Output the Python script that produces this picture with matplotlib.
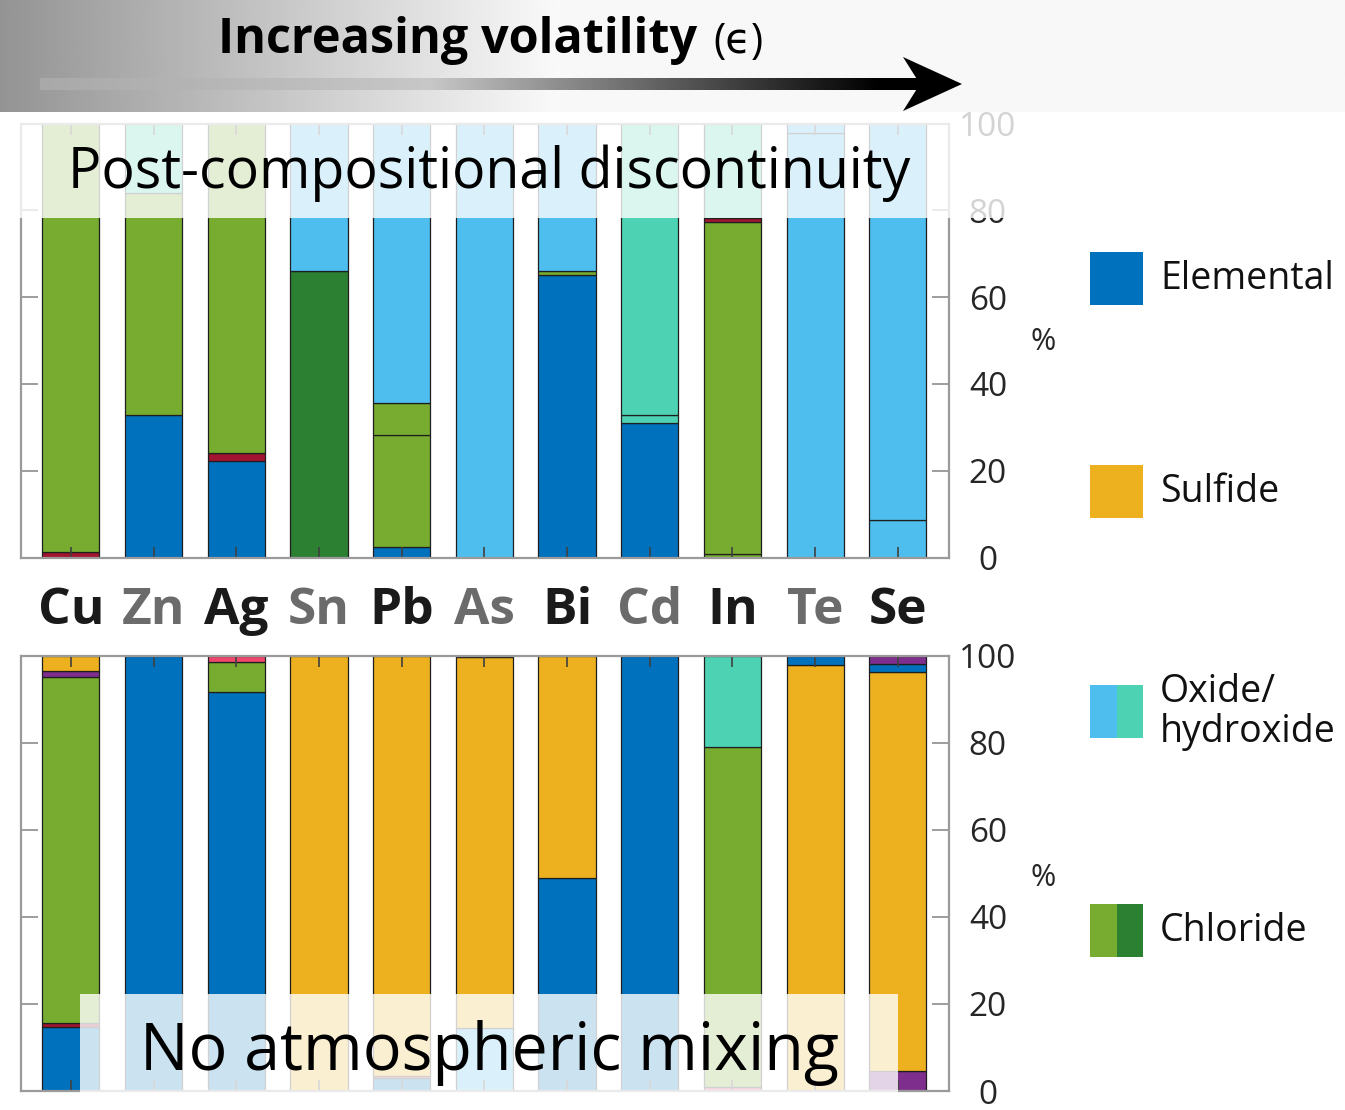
import numpy as np
import matplotlib
matplotlib.use("Agg")
import matplotlib.pyplot as plt
from matplotlib.patches import Rectangle, Polygon
from matplotlib.transforms import blended_transform_factory

plt.rcParams["font.family"] = ["Open Sans", "DejaVu Sans"]

W, H = 1345, 1110

elements = ["Cu", "Zn", "Ag", "Sn", "Pb", "As", "Bi", "Cd", "In", "Te", "Se"]
label_colors = ["#1a1a1a", "#6b6b6b"] * 6

# species colours
C_ELEM = "#0072BD"
C_SULF = "#EDB120"
C_OXID = "#4DBEEE"
C_HYDR = "#4DD3B4"
C_CHL = "#77AC30"
C_CHL2 = "#2B8031"
C_RED = "#A2142F"
C_PURP = "#7E2F8E"
C_PINK = "#F0486C"

# Post-compositional discontinuity (%), layers listed bottom to top
top_elemental = [0, 32.8, 22.2, 0, 2.5, 0, 65.0, 31.0, 0, 0, 0]
top_chloride_dark = [0, 0, 0, 66.0, 0, 0, 0, 0, 0, 0, 0]
top_red_low = [1.3, 0, 1.9, 0, 0, 0, 0, 0, 0, 0, 0]
top_chloride_a = [98.7, 51.2, 75.9, 0, 25.7, 0, 1.0, 0, 0.8, 0, 0]
top_chloride_b = [0, 0, 0, 0, 7.3, 0, 0, 0, 76.6, 0, 0]
top_red_high = [0, 0, 0, 0, 0, 0, 0, 0, 0.8, 0, 0]
top_hydroxide_a = [0, 16.0, 0, 0, 0, 0, 0, 1.8, 21.8, 0, 0]
top_hydroxide_b = [0, 0, 0, 0, 0, 0, 0, 67.2, 0, 0, 0]
top_oxide_a = [0, 0, 0, 34.0, 64.5, 100.0, 34.0, 0, 0, 97.7, 8.6]
top_oxide_b = [0, 0, 0, 0, 0, 0, 0, 0, 0, 2.3, 91.4]

# No atmospheric mixing (%), layers listed bottom to top
bot_purple_low = [0, 0, 0, 0, 0, 0, 0, 0, 0, 0, 4.7]
bot_oxide = [0, 0, 0, 0, 0, 14.5, 0, 0, 0, 0, 0]
bot_elemental = [14.8, 100.0, 91.8, 0, 3.1, 0, 49.0, 100.0, 0, 0, 0]
bot_red = [0.9, 0, 0, 0, 0, 0, 0, 0, 0, 0, 0]
bot_pink_low = [0, 0, 0, 0, 0.4, 0, 0, 0, 1.0, 0, 0]
bot_chloride = [79.4, 0, 6.8, 0, 0, 0, 0, 0, 78.0, 0, 0]
bot_purple_mid = [1.4, 0, 0, 0, 0, 0, 0, 0, 0, 0, 0]
bot_sulfide = [3.5, 0, 0, 100.0, 96.5, 85.2, 51.0, 0, 0, 97.9, 91.6]
bot_elemental_top = [0, 0, 0, 0, 0, 0, 0, 0, 0, 2.1, 1.9]
bot_purple_top = [0, 0, 0, 0, 0, 0.3, 0, 0, 0, 0, 1.8]
bot_pink_top = [0, 0, 1.4, 0, 0, 0, 0, 0, 0, 0, 0]
bot_hydroxide = [0, 0, 0, 0, 0, 0, 0, 0, 21.0, 0, 0]

top_layers = [
    (top_elemental, C_ELEM), (top_chloride_dark, C_CHL2), (top_red_low, C_RED),
    (top_chloride_a, C_CHL), (top_chloride_b, C_CHL), (top_red_high, C_RED),
    (top_hydroxide_a, C_HYDR), (top_hydroxide_b, C_HYDR),
    (top_oxide_a, C_OXID), (top_oxide_b, C_OXID),
]
bot_layers = [
    (bot_purple_low, C_PURP), (bot_oxide, C_OXID), (bot_elemental, C_ELEM),
    (bot_red, C_RED), (bot_pink_low, C_PINK), (bot_chloride, C_CHL),
    (bot_purple_mid, C_PURP), (bot_sulfide, C_SULF), (bot_elemental_top, C_ELEM),
    (bot_purple_top, C_PURP), (bot_pink_top, C_PINK), (bot_hydroxide, C_HYDR),
]

x = np.arange(len(elements))
BAR_W = 0.69


def fx(px):
    return px / W


def fy(py):
    return 1 - py / H


def stacked(ax, layers):
    base = np.zeros(len(x))
    for vals, col in layers:
        v = np.asarray(vals, dtype=float)
        m = v > 0
        ax.bar(x[m], v[m], bottom=base[m], width=BAR_W, color=col,
               edgecolor="#1e1e1e", linewidth=0.9)
        base += v


def style(ax):
    ax.set_xlim(-0.61, 10.62)
    ax.set_ylim(0, 100)
    ax.set_xticks(x)
    ax.set_xticklabels([])
    ax.tick_params(axis="x", direction="in", length=8, width=1.2,
                   color="#404040", top=True, bottom=True)
    ax.set_yticks(range(0, 101, 20))
    ax.tick_params(axis="y", direction="in", length=12, width=1.2,
                   color="#8c8c8c", left=True, right=True, labelleft=False,
                   labelright=True, labelsize=24, labelcolor="#262626", pad=28)
    for lab in ax.get_yticklabels():
        lab.set_horizontalalignment("center")
    for s in ax.spines.values():
        s.set_color("#9a9a9a")
        s.set_linewidth(1.6)


fig = plt.figure(figsize=(W / 100, H / 100), dpi=100)

ax_top = fig.add_axes([fx(20.5), fy(557.5), fx(949 - 20.5), 434 / H])
ax_bot = fig.add_axes([fx(20.5), fy(1091), fx(949 - 20.5), 435 / H])
stacked(ax_top, top_layers)
stacked(ax_bot, bot_layers)
style(ax_top)
style(ax_bot)

for py in (342, 878):
    fig.text(fx(1043), fy(py), "%", fontsize=22, color="#262626",
             ha="center", va="center")

# element names between the panels
trans = blended_transform_factory(ax_top.transData, fig.transFigure)
for i, (el, c) in enumerate(zip(elements, label_colors)):
    ax_top.text(i, fy(611), el, transform=trans, ha="center", va="center",
                fontsize=37, fontweight="bold", color=c, clip_on=False)

# translucent caption boxes
fig.patches.append(Rectangle((fx(0), fy(218)), fx(1030), (218 - 112) / H,
                             transform=fig.transFigure, facecolor="white",
                             alpha=0.8, edgecolor="none", zorder=3))
fig.text(fx(489), fy(173), "Post-compositional discontinuity", fontsize=40,
         ha="center", va="center", color="black", zorder=4)

fig.patches.append(Rectangle((fx(80), fy(1093)), fx(898 - 80), (1093 - 994) / H,
                             transform=fig.transFigure, facecolor="white",
                             alpha=0.8, edgecolor="none", zorder=3))
fig.text(fx(489), fy(1053), "No atmospheric mixing", fontsize=46.5,
         ha="center", va="center", color="black", zorder=4)

# legend
legend_items = [
    (252, "Elemental", [C_ELEM]),
    (465, "Sulfide", [C_SULF]),
    (685, "Oxide/\nhydroxide", [C_OXID, C_HYDR]),
    (904, "Chloride", [C_CHL, C_CHL2]),
]
for top_px, name, cols in legend_items:
    n = len(cols)
    wpx = 53 / n
    for k, c in enumerate(cols):
        fig.patches.append(Rectangle((fx(1090 + k * wpx), fy(top_px + 53)),
                                     fx(wpx), 53 / H, transform=fig.transFigure,
                                     facecolor=c, edgecolor="none", zorder=3))
    fig.text(fx(1160), fy(top_px + 27), name, fontsize=27, ha="left",
             va="center", color="#111111", linespacing=1.08, zorder=4)

# header band with volatility arrow
hax = fig.add_axes([0, fy(112), 1, 112 / H], zorder=10)
hax.set_xlim(0, W)
hax.set_ylim(112, 0)
hax.axis("off")
xs = np.linspace(0, W, 600)
band = np.where(xs < 560, 0.58 + (0.98 - 0.58) * xs / 560, 0.97)
hax.imshow(band[None, :], extent=[0, W, 112, 0], cmap="gray", vmin=0, vmax=1,
           aspect="auto", interpolation="bilinear")
sx = np.linspace(40, 920, 600)
shaft = np.where(sx < 430, 0.66 + 0.12 * (sx - 40) / 390,
                 np.clip(0.78 * (1 - (sx - 430) / 450), 0, 1))
hax.imshow(shaft[None, :], extent=[40, 920, 90, 78], cmap="gray", vmin=0,
           vmax=1, aspect="auto", interpolation="bilinear")
hax.add_patch(Polygon([(903, 57), (962, 84), (903, 111), (920, 84)],
                      closed=True, facecolor="black", edgecolor="none"))
hax.text(218, 53, "Increasing volatility", fontsize=35, fontweight="bold",
         ha="left", va="baseline", color="black")
hax.text(713, 53, "(ϵ)", fontsize=30, ha="left", va="baseline", color="black")

fig.savefig("out.png", dpi=100)
